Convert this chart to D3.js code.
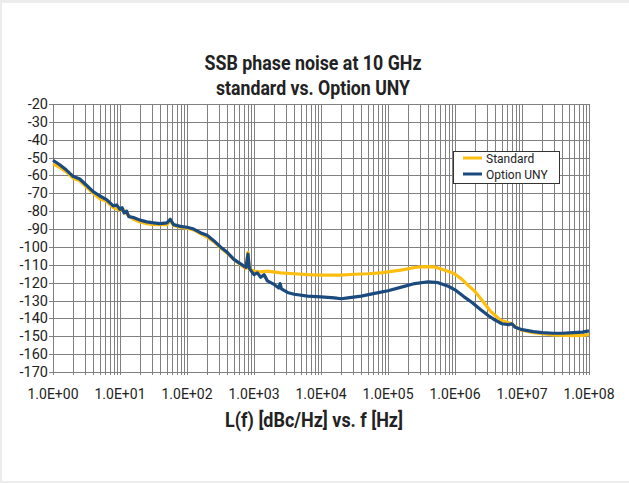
<!DOCTYPE html>
<html><head><meta charset="utf-8">
<script src="https://cdn.jsdelivr.net/npm/d3@7"></script>
<style>body{margin:0;background:#fff}svg{display:block}</style>
</head><body>
<script>
// ---- data ----
const titleLines = ["SSB phase noise at 10 GHz", "standard vs. Option UNY"];
const xTitle = "L(f) [dBc/Hz] vs. f [Hz]";
const seriesNames = ["Standard", "Option UNY"];
const xTickLabels = ["1.0E+00","1.0E+01","1.0E+02","1.0E+03","1.0E+04","1.0E+05","1.0E+06","1.0E+07","1.0E+08"];
const yTicks = [-20,-30,-40,-50,-60,-70,-80,-90,-100,-110,-120,-130,-140,-150,-160,-170];
// frequencies given as log10(f [Hz])
const stdLogF = [0,0.1,0.2,0.3,0.4,0.5,0.6,0.7,0.8,0.9,1.0,1.05,1.1,1.2,1.3,1.4,1.5,1.6,1.7,1.75,1.8,1.9,2.0,2.1,2.2,2.3,2.4,2.5,2.6,2.7,2.8,2.88,2.91,2.93,3.0,3.1,3.2,3.4,3.6,3.8,4.0,4.29,4.5,4.7,4.89,5.0,5.19,5.4,5.53,5.7,5.85,5.98,6.1,6.19,6.3,6.38,6.53,6.68,6.83,6.98,7.17,7.47,7.77,7.9,8.0];
const stdVals = [-53.5,-55.5,-58,-61.5,-63,-66.5,-70,-73,-74.5,-78,-79.5,-79,-81.5,-84.5,-86,-87,-87.5,-87.5,-87.5,-85.5,-88,-89,-89.5,-90.5,-92.5,-94.5,-97,-100.5,-103.5,-107,-110,-112,-103,-112.5,-113.5,-114,-113.5,-114.5,-115,-115.5,-115.8,-115.8,-115.3,-115,-114.5,-114,-113,-111.5,-111,-111.2,-113,-114.7,-118,-121.2,-125,-128.7,-136,-141,-142.8,-146.5,-148,-149.3,-149.6,-149.5,-149];
const unyLogF = [0,0.1,0.2,0.3,0.4,0.5,0.6,0.7,0.8,0.9,0.95,1.0,1.03,1.06,1.1,1.13,1.2,1.3,1.4,1.5,1.6,1.7,1.75,1.8,1.9,2.0,2.1,2.2,2.3,2.4,2.5,2.6,2.7,2.8,2.88,2.91,2.93,3.0,3.05,3.1,3.15,3.2,3.3,3.37,3.39,3.41,3.5,3.6,3.8,4.0,4.2,4.3,4.4,4.6,4.8,5.0,5.2,5.4,5.6,5.75,5.9,6.0,6.13,6.25,6.38,6.5,6.6,6.7,6.8,6.85,6.9,7.0,7.17,7.3,7.47,7.6,7.77,7.9,8.0];
const unyVals = [-51.5,-54,-57,-60.5,-62,-65.5,-69,-71.5,-73.5,-77,-76.5,-79,-78,-81,-80,-83,-83.5,-85,-86,-86.5,-87,-86.5,-84.5,-87.5,-88.5,-89,-90,-92,-93.5,-96.5,-100,-103,-107,-109.5,-111.5,-104,-112,-115.5,-114.5,-117,-115.5,-119,-121,-123,-120.5,-123.5,-125.5,-126.5,-127.5,-128,-128.5,-129,-128.5,-127.5,-126,-124.5,-122.5,-120.5,-119.5,-120,-122,-124,-127.8,-131,-135,-138.5,-141,-143,-143.5,-143,-145,-146.3,-147.4,-148,-148.3,-148.3,-148,-147.7,-147];
const colors = ["#FFBE0F", "#1B4A7E"];

// ---- layout ----
const W = 629, H = 483;
const L = 53, R = 589, T = 104, B = 372;
const svg = d3.select("body").append("svg").attr("width", W).attr("height", H);
svg.append("rect").attr("width", W).attr("height", H).attr("fill", "#ececec");
svg.append("rect").attr("x", 2).attr("y", 3).attr("width", W - 2).attr("height", H - 5).attr("fill", "#fff");

const x = d3.scaleLog().domain([1, 1e8]).range([L, R]);
const y = d3.scaleLinear().domain([-170, -20]).range([B, T]);

// grid
const g = svg.append("g");
const minorX = [];
for (let e = 0; e < 8; e++) for (let m = 1; m <= 9; m++) minorX.push(m * Math.pow(10, e));
minorX.push(1e8);
g.selectAll("line.vx").data(minorX).join("line")
  .attr("x1", d => Math.round(x(d)) + 0.5).attr("x2", d => Math.round(x(d)) + 0.5)
  .attr("y1", T).attr("y2", B + 3).attr("stroke", "#808080").attr("stroke-width", 1);
g.selectAll("line.hy").data(yTicks).join("line")
  .attr("x1", L - 4).attr("x2", R)
  .attr("y1", d => Math.round(y(d)) + 0.5).attr("y2", d => Math.round(y(d)) + 0.5)
  .attr("stroke", "#808080").attr("stroke-width", 1);

// axes labels
const font = "Roboto, 'Liberation Sans', sans-serif";
svg.selectAll("text.yt").data(yTicks).join("text")
  .attr("x", L - 5).attr("y", d => y(d) + 5).attr("text-anchor", "end")
  .attr("font-family", font).attr("font-size", 14.5).attr("fill", "#222").text(d => d);
svg.selectAll("text.xt").data(xTickLabels).join("text")
  .attr("x", (d, i) => x(Math.pow(10, i))).attr("y", 399).attr("text-anchor", "middle")
  .attr("font-family", font).attr("font-size", 14).attr("fill", "#222").text(d => d);

// lines
const line = d3.line().x(d => x(Math.pow(10, d[0]))).y(d => y(d[1]));
const series = [
  d3.zip(stdLogF, stdVals),
  d3.zip(unyLogF, unyVals)
];
series.forEach((s, i) => {
  svg.append("path").datum(s).attr("d", line).attr("fill", "none")
    .attr("stroke", colors[i]).attr("stroke-width", 3.2).attr("stroke-linejoin", "round");
});

// titles (condensed look via textLength)
const tfont = "Roboto, 'Liberation Sans', sans-serif";
const titleWidths = [217, 194];
svg.selectAll("text.title").data(titleLines).join("text")
  .attr("x", 313).attr("y", (d, i) => 70 + i * 25).attr("text-anchor", "middle")
  .attr("font-family", tfont).attr("font-weight", "bold").attr("font-size", 19.5).attr("fill", "#222")
  .attr("textLength", (d, i) => titleWidths[i]).attr("lengthAdjust", "spacingAndGlyphs").text(d => d);
svg.append("text").attr("x", 314).attr("y", 427).attr("text-anchor", "middle")
  .attr("font-family", tfont).attr("font-weight", "bold").attr("font-size", 19.5).attr("fill", "#222")
  .attr("textLength", 178).attr("lengthAdjust", "spacingAndGlyphs").text(xTitle);

// legend
const lg = svg.append("g");
lg.append("rect").attr("x", 453.5).attr("y", 151.5).attr("width", 106).attr("height", 32)
  .attr("fill", "#fff").attr("stroke", "#333").attr("stroke-width", 1);
seriesNames.forEach((n, i) => {
  const yy = 158 + i * 16;
  lg.append("line").attr("x1", 463).attr("x2", 482).attr("y1", yy).attr("y2", yy)
    .attr("stroke", colors[i]).attr("stroke-width", 3);
  lg.append("text").attr("x", 486).attr("y", yy + 4.5).attr("font-family", font)
    .attr("font-size", 12).attr("fill", "#222").text(n);
});
</script>
</body></html>
